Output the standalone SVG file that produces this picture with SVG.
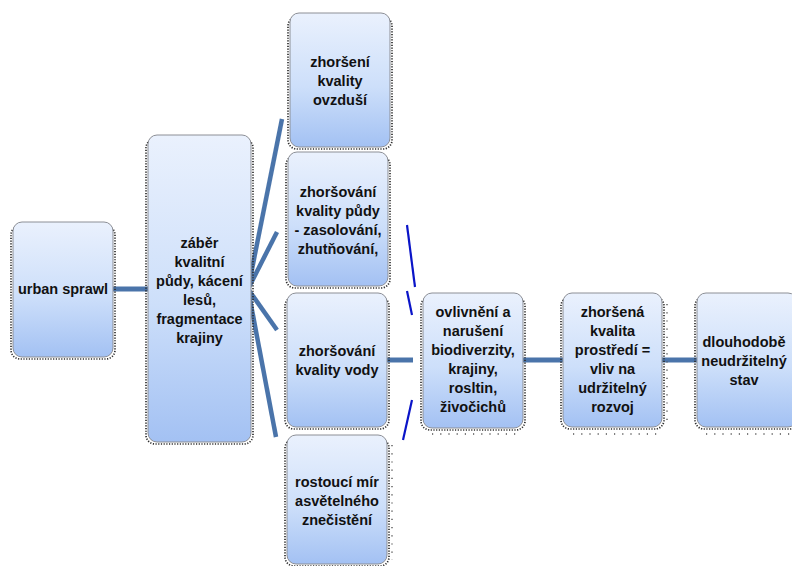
<svg xmlns="http://www.w3.org/2000/svg" width="792" height="566" viewBox="0 0 792 566">
  <defs>
    <linearGradient id="boxFill" x1="0" y1="0" x2="0" y2="1">
      <stop offset="0" stop-color="#eaf1fd"/>
      <stop offset="0.55" stop-color="#cddffa"/>
      <stop offset="1" stop-color="#a3c1f3"/>
    </linearGradient>
  </defs>
  <style>
    .box { fill: url(#boxFill); stroke: #8c8f96; stroke-width: 1; }
    .shadow { fill: none; stroke: #2e2e2e; stroke-width: 1.7; stroke-dasharray: 1.2 1.5; }
    .dots { fill: none; stroke: #555; stroke-width: 1.4; stroke-dasharray: 1.2 7; }
    .label { font-family: "Liberation Sans", Arial, sans-serif; font-weight: bold; font-size: 14.5px; fill: #111; text-anchor: middle; }
    .link { stroke: #4a74aa; stroke-width: 5; fill: none; }
    .fan { stroke: #4a74aa; stroke-width: 4.5; fill: none; stroke-linecap: butt; }
    .brace { stroke: #0a14c8; stroke-width: 2.2; fill: none; }
  </style>

  <!-- connectors -->
  <g id="connectors">
    <line class="link" x1="113" y1="289" x2="148" y2="289"/>
    <line class="fan" x1="248" y1="289" x2="282" y2="119"/>
    <line class="fan" x1="248" y1="289" x2="277" y2="232"/>
    <line class="fan" x1="248" y1="289" x2="277" y2="330"/>
    <line class="fan" x1="248" y1="289" x2="276" y2="437"/>
    <line class="link" x1="387" y1="360" x2="413" y2="360"/>
    <line class="link" x1="523" y1="360" x2="563" y2="360"/>
    <line class="link" x1="662" y1="360" x2="697" y2="360"/>
    <line class="brace" x1="407" y1="225" x2="415" y2="287"/>
    <line class="brace" x1="407" y1="291" x2="412" y2="315"/>
    <line class="brace" x1="412" y1="400" x2="403" y2="440"/>
  </g>

  <!-- urban sprawl -->
  <g id="node-urban-sprawl">
    <rect class="shadow" x="11" y="226" width="104" height="133" rx="9"/>
    <rect class="box" x="13" y="222" width="100" height="135" rx="9"/>
    <text class="label" x="63" y="294">urban sprawl</text>
  </g>

  <!-- land take -->
  <g id="node-zaber">
    <rect class="shadow" x="146" y="139" width="107" height="305" rx="9"/>
    <rect class="box" x="148" y="135" width="103" height="307" rx="9"/>
    <text class="label" x="199.5" y="248">záběr</text>
    <text class="label" x="199.5" y="267">kvalitní</text>
    <text class="label" x="199.5" y="286">půdy, kácení</text>
    <text class="label" x="199.5" y="305">lesů,</text>
    <text class="label" x="199.5" y="324">fragmentace</text>
    <text class="label" x="199.5" y="343">krajiny</text>
  </g>

  <!-- air quality -->
  <g id="node-ovzdusi">
    <rect class="shadow" x="288" y="17" width="104" height="132" rx="9"/>
    <rect class="box" x="290" y="13" width="100" height="134" rx="9"/>
    <text class="label" x="340" y="67">zhoršení</text>
    <text class="label" x="340" y="86">kvality</text>
    <text class="label" x="340" y="105">ovzduší</text>
  </g>

  <!-- soil quality -->
  <g id="node-pudy">
    <rect class="shadow" x="286" y="156" width="104" height="132" rx="9"/>
    <rect class="box" x="288" y="152" width="100" height="134" rx="9"/>
    <text class="label" x="338" y="197">zhoršování</text>
    <text class="label" x="338" y="216">kvality půdy</text>
    <text class="label" x="338" y="235">- zasolování,</text>
    <text class="label" x="338" y="254">zhutňování,</text>
  </g>

  <!-- water quality -->
  <g id="node-vody">
    <rect class="shadow" x="285" y="297" width="104" height="132" rx="9"/>
    <rect class="box" x="287" y="293" width="100" height="134" rx="9"/>
    <text class="label" x="337" y="356">zhoršování</text>
    <text class="label" x="337" y="375">kvality vody</text>
  </g>

  <!-- light pollution -->
  <g id="node-svetelne">
    <rect class="shadow" x="285" y="439" width="104" height="127" rx="9"/>
    <line class="dots" x1="392" y1="445" x2="392" y2="560"/>
    <rect class="box" x="287" y="435" width="100" height="129" rx="9"/>
    <text class="label" x="337" y="487">rostoucí mír</text>
    <text class="label" x="337" y="506">asvětelného</text>
    <text class="label" x="337" y="525">znečistění</text>
  </g>

  <!-- biodiversity -->
  <g id="node-biodiverzita">
    <rect class="shadow" x="421" y="297" width="104" height="133" rx="9"/>
    <line class="dots" x1="432" y1="434" x2="520" y2="434"/>
    <rect class="box" x="423" y="293" width="100" height="135" rx="9"/>
    <text class="label" x="473" y="317">ovlivnění a</text>
    <text class="label" x="473" y="336">narušení</text>
    <text class="label" x="473" y="355">biodiverzity,</text>
    <text class="label" x="473" y="374">krajiny,</text>
    <text class="label" x="473" y="393">rosltin,</text>
    <text class="label" x="473" y="412">živočichů</text>
  </g>

  <!-- environment quality -->
  <g id="node-prostredi">
    <rect class="shadow" x="561" y="297" width="103" height="132" rx="9"/>
    <line class="dots" x1="667" y1="304" x2="667" y2="424"/>
    <line class="dots" x1="573" y1="434" x2="660" y2="434"/>
    <rect class="box" x="563" y="293" width="99" height="134" rx="9"/>
    <text class="label" x="612.5" y="317">zhoršená</text>
    <text class="label" x="612.5" y="336">kvalita</text>
    <text class="label" x="612.5" y="355">prostředí =</text>
    <text class="label" x="612.5" y="374">vliv na</text>
    <text class="label" x="612.5" y="393">udržitelný</text>
    <text class="label" x="612.5" y="412">rozvoj</text>
  </g>

  <!-- long-term state -->
  <g id="node-dlouhodobe">
    <rect class="shadow" x="695" y="297" width="104" height="132" rx="9"/>
    <line class="dots" x1="706" y1="434" x2="792" y2="434"/>
    <rect class="box" x="697" y="293" width="100" height="134" rx="9"/>
    <text class="label" x="744" y="347">dlouhodobě</text>
    <text class="label" x="744" y="366">neudržitelný</text>
    <text class="label" x="744" y="385">stav</text>
  </g>
</svg>
